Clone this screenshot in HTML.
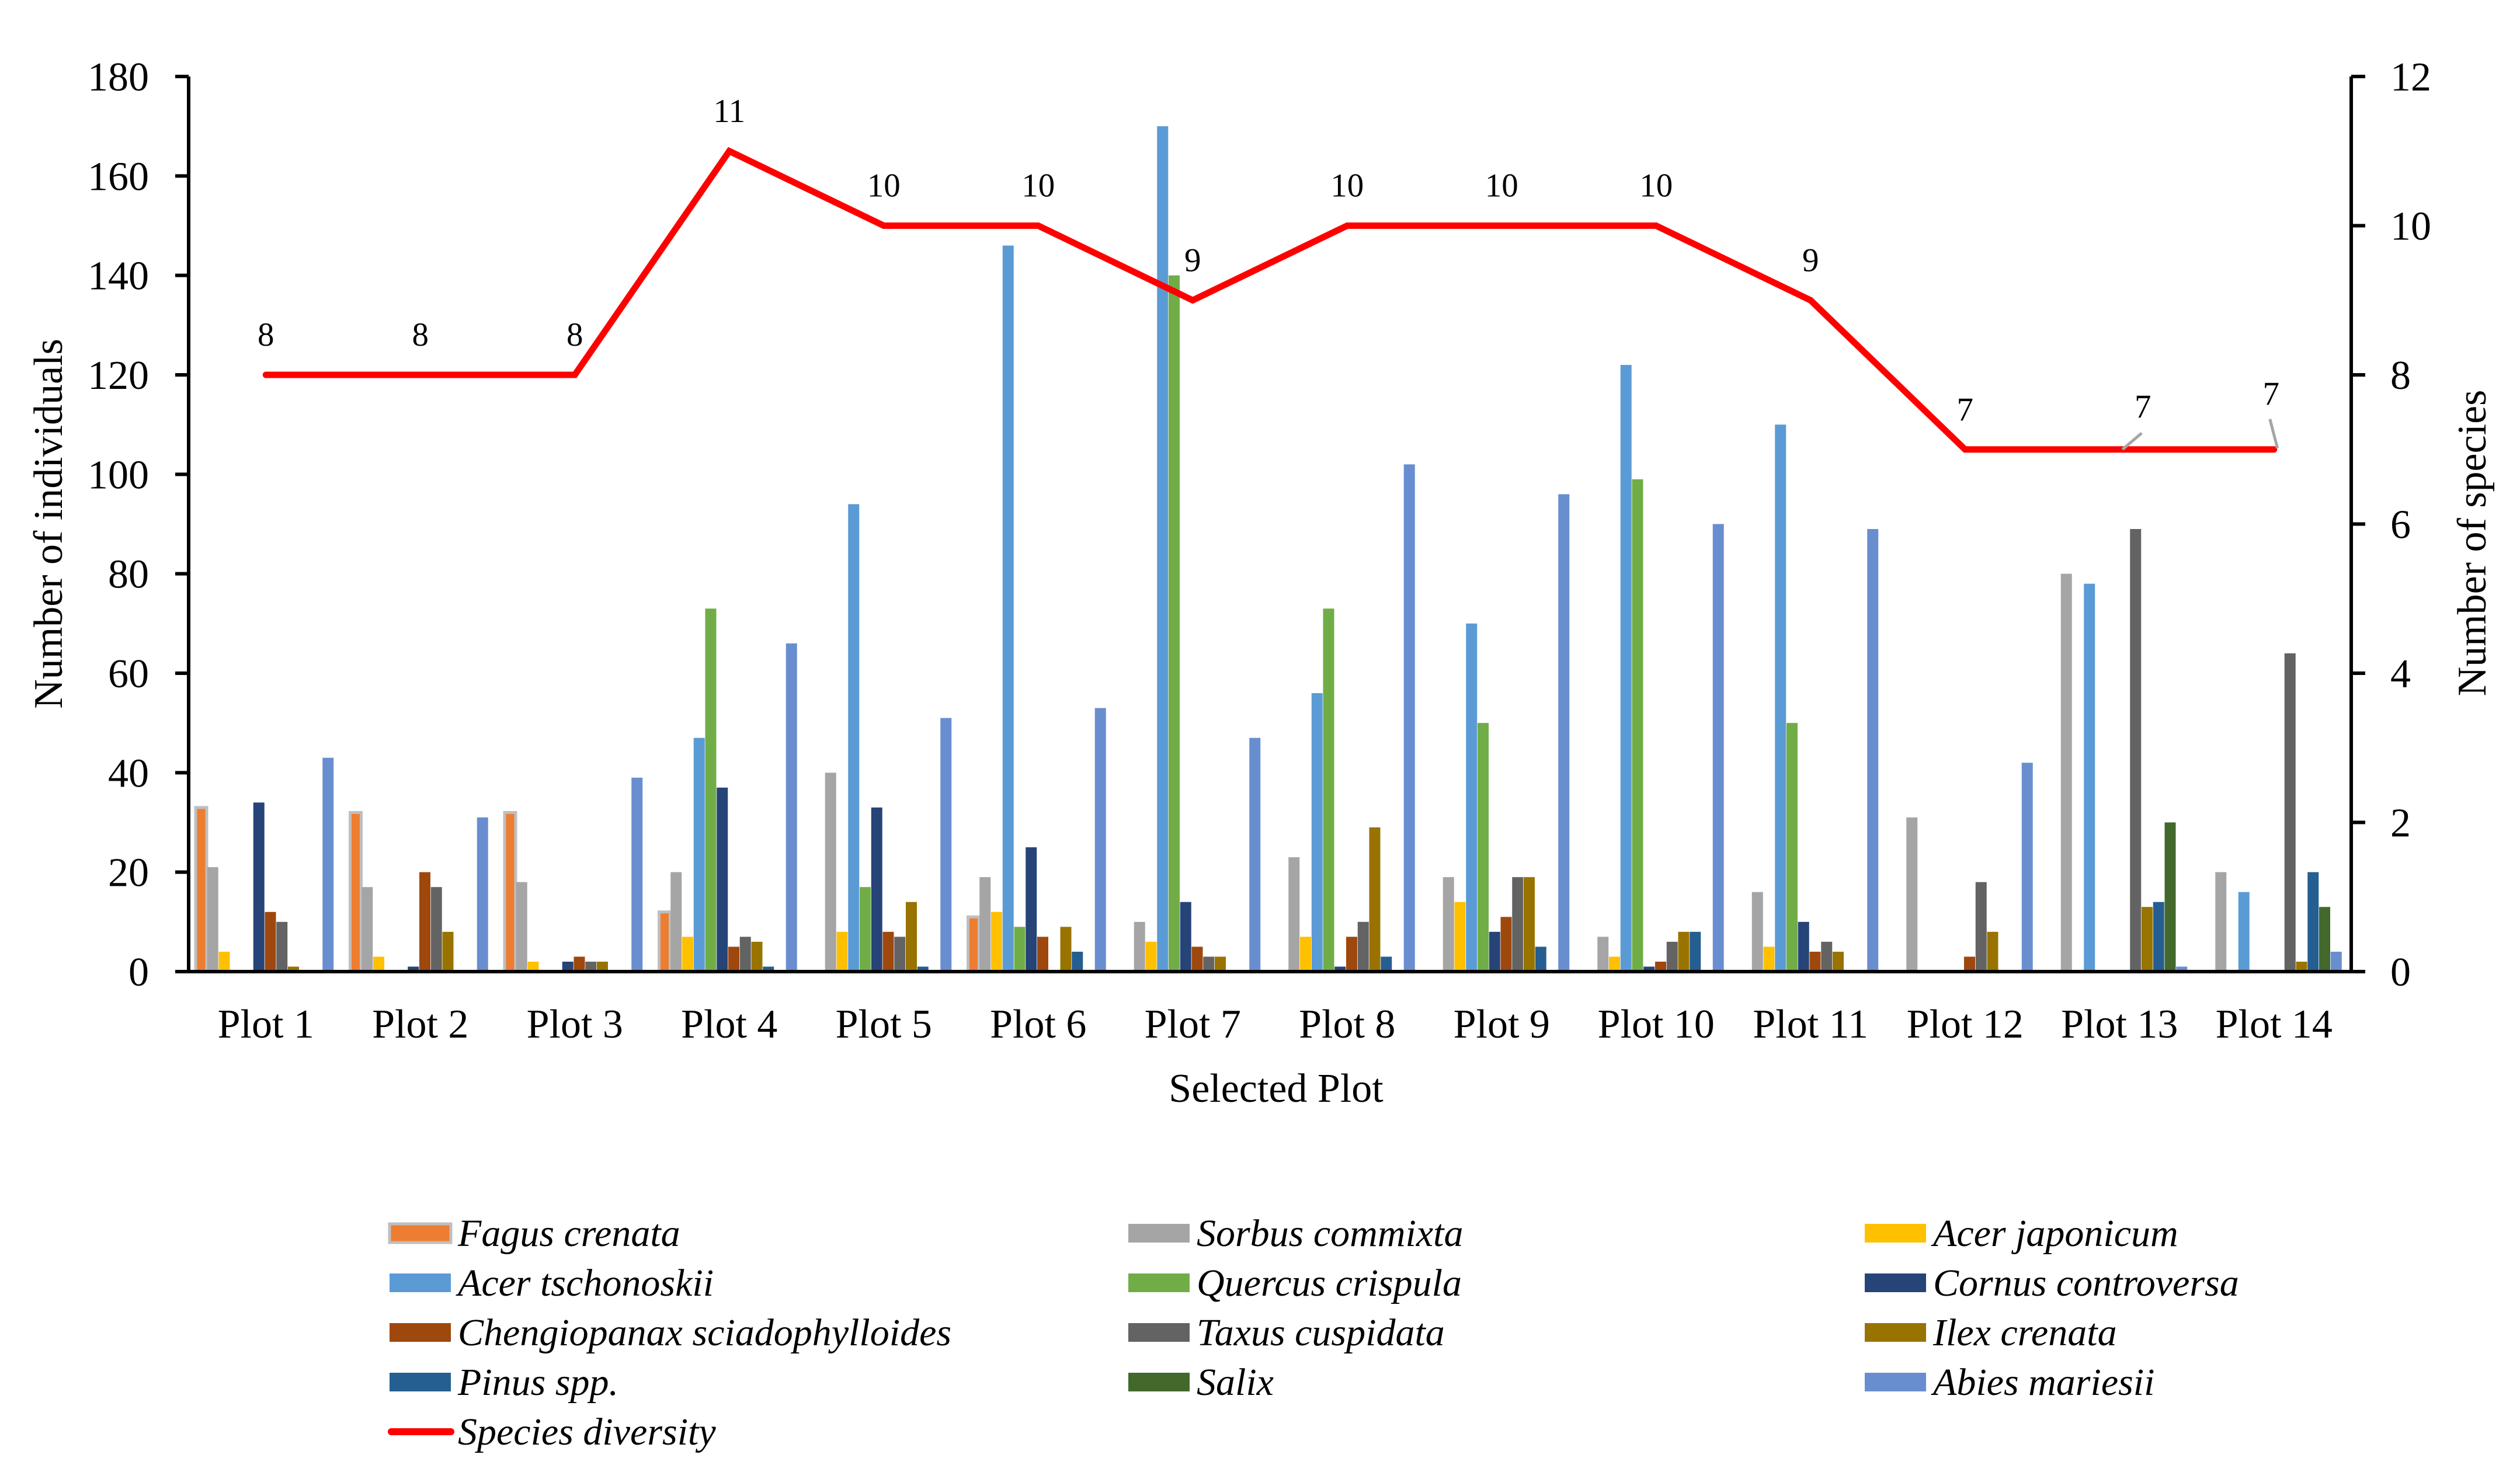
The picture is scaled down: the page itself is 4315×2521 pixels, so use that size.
<!DOCTYPE html>
<html><head><meta charset="utf-8">
<style>
html,body{margin:0;padding:0;background:#fff;}
svg, svg text{font-family:"Liberation Serif","DejaVu Serif","Times New Roman",serif;}
svg{display:block;}
</style></head>
<body>
<svg id="chart" width="4315" height="2521" viewBox="0 0 4315 2521" xmlns="http://www.w3.org/2000/svg" font-family="Liberation Serif, serif">
<rect x="0" y="0" width="4315" height="2521" fill="#fff"/>
<g id="bars"></g>
<g id="axes"></g>
<g id="line"></g>
<g id="legend"></g>
</svg>
<script>
const categories = ["Plot 1","Plot 2","Plot 3","Plot 4","Plot 5","Plot 6","Plot 7","Plot 8","Plot 9","Plot 10","Plot 11","Plot 12","Plot 13","Plot 14"];
const speciesNames = ["Fagus crenata","Sorbus commixta","Acer japonicum","Acer tschonoskii","Quercus crispula","Cornus controversa","Chengiopanax sciadophylloides","Taxus cuspidata","Ilex crenata","Pinus spp.","Salix","Abies mariesii"];
const fagus    = [33,32,32,12,0,11,0,0,0,0,0,0,0,0];
const sorbus   = [21,17,18,20,40,19,10,23,19,7,16,31,80,20];
const acerJap  = [4,3,2,7,8,12,6,7,14,3,5,0,0,0];
const acerTsch = [0,0,0,47,94,146,170,56,70,122,110,0,78,16];
const quercus  = [0,0,0,73,17,9,140,73,50,99,50,0,0,0];
const cornus   = [34,1,2,37,33,25,14,1,8,1,10,0,0,0];
const cheng    = [12,20,3,5,8,7,5,7,11,2,4,3,0,0];
const taxus    = [10,17,2,7,7,0,3,10,19,6,6,18,89,64];
const ilex     = [1,8,2,6,14,9,3,29,19,8,4,8,13,2];
const pinus    = [0,0,0,1,1,4,0,3,5,8,0,0,14,20];
const salix    = [0,0,0,0,0,0,0,0,0,0,0,0,30,13];
const abies    = [43,31,39,66,51,53,47,102,96,90,89,42,1,4];
const speciesCount = [8,8,8,11,10,10,9,10,10,10,9,7,7,7];
const leftTicks = [0,20,40,60,80,100,120,140,160,180];
const rightTicks = [0,2,4,6,8,10,12];

const series = [fagus,sorbus,acerJap,acerTsch,quercus,cornus,cheng,taxus,ilex,pinus,salix,abies];
const colors = ["#ED7D31","#A5A5A5","#FFC000","#5B9BD5","#70AD47","#264478","#9E480E","#636363","#997300","#255E91","#43682B","#698ED0"];

const NS="http://www.w3.org/2000/svg";
const FF="Liberation Serif, DejaVu Serif, serif";
const X0=323, X1=4026, Y0=1664, YT=131;
const W=(X1-X0)/categories.length;
const yL=v=>Y0-(v/180)*(Y0-YT);
const yR=v=>Y0-(v/12)*(Y0-YT);
const xCat=i=>X0+W*i;
const xCenter=i=>X0+W*(i+0.5);
const step=19.75, bw=19;
function mk(tag,attrs,parent){const e=document.createElementNS(NS,tag);for(const k in attrs)e.setAttribute(k,attrs[k]);if(tag==='text')e.setAttribute('font-family',FF);parent.appendChild(e);return e;}

const gb=document.getElementById('bars');
series.forEach((s,si)=>{
  s.forEach((v,ci)=>{
    if(v<=0)return;
    const x=xCat(ci)+12+si*step;
    const r=mk('rect',{x:x,y:yL(v),width:bw,height:Y0-yL(v),fill:colors[si]},gb);
    if(si===0){r.setAttribute('stroke','#BFBFBF');r.setAttribute('stroke-width','5');}
    
    
  });
});

const ga=document.getElementById('axes');
let e;
e=mk('line',{x1:X0,y1:YT,x2:X0,y2:Y0,stroke:'#000','stroke-width':6},ga);

e=mk('line',{x1:X1,y1:YT,x2:X1,y2:Y0,stroke:'#000','stroke-width':6},ga);

e=mk('line',{x1:300,y1:Y0,x2:4048,y2:Y0,stroke:'#000','stroke-width':6},ga);

leftTicks.forEach(t=>{
  const y=yL(t);
  e=mk('line',{x1:300,y1:y,x2:X0,y2:y,stroke:'#000','stroke-width':6},ga);
  
  e=mk('text',{x:255,y:y+24,'text-anchor':'end','font-size':70},ga);e.textContent=t;
  
});
rightTicks.forEach(t=>{
  const y=yR(t);
  e=mk('line',{x1:X1,y1:y,x2:4050,y2:y,stroke:'#000','stroke-width':6},ga);
  
  e=mk('text',{x:4093,y:y+24,'text-anchor':'start','font-size':70},ga);e.textContent=t;
  
});
categories.forEach((c,i)=>{
  e=mk('text',{x:xCenter(i),y:1777,'text-anchor':'middle','font-size':70},ga);e.textContent=c;
  
});
e=mk('text',{x:2185,y:1887,'text-anchor':'middle','font-size':70},ga);e.textContent='Selected Plot';

e=mk('text',{x:0,y:0,'text-anchor':'middle','font-size':70,transform:'translate(106,897) rotate(-90)'},ga);e.textContent='Number of individuals';

e=mk('text',{x:0,y:0,'text-anchor':'middle','font-size':70,transform:'translate(4256,930) rotate(-90)'},ga);e.textContent='Number of species';


const gl=document.getElementById('line');
const pts=speciesCount.map((v,i)=>xCenter(i)+','+yR(v)).join(' ');
e=mk('polyline',{points:pts,fill:'none',stroke:'#FF0000','stroke-width':11,'stroke-linejoin':'miter','stroke-linecap':'round'},gl);

speciesCount.forEach((v,i)=>{
  let lx=xCenter(i), ly=yR(v)-50;
  if(i===12){lx=xCenter(i)+40;ly=yR(v)-55;
    e=mk('line',{x1:xCenter(i)+5,y1:yR(v),x2:xCenter(i)+38,y2:yR(v)-28,stroke:'#A5A5A5','stroke-width':5},gl);
    }
  if(i===13){lx=xCenter(i)-5;ly=yR(v)-77;
    e=mk('line',{x1:xCenter(i)-7,y1:yR(v)-52,x2:xCenter(i)+6,y2:yR(v)-2,stroke:'#A5A5A5','stroke-width':5},gl);
    }
  e=mk('text',{x:lx,y:ly,'text-anchor':'middle','font-size':57},gl);e.textContent=v;
  
});

const gleg=document.getElementById('legend');
const colX=[667,1932,3193], rowY=[2112,2197,2282,2367];
speciesNames.forEach((n,i)=>{
  const cx=colX[i%3], cy=rowY[Math.floor(i/3)];
  const r=mk('rect',{x:cx,y:cy-16,width:105,height:32,fill:colors[i]},gleg);
  if(i===0){r.setAttribute('stroke','#BFBFBF');r.setAttribute('stroke-width','5');}
  
  e=mk('text',{x:cx+117,y:cy+22,'font-size':66,'font-style':'italic'},gleg);e.textContent=n;
  
});
e=mk('line',{x1:670,y1:2452,x2:772,y2:2452,stroke:'#FF0000','stroke-width':12,'stroke-linecap':'round'},gleg);

e=mk('text',{x:784,y:2474,'font-size':66,'font-style':'italic'},gleg);e.textContent='Species diversity';

</script>
</body></html>
